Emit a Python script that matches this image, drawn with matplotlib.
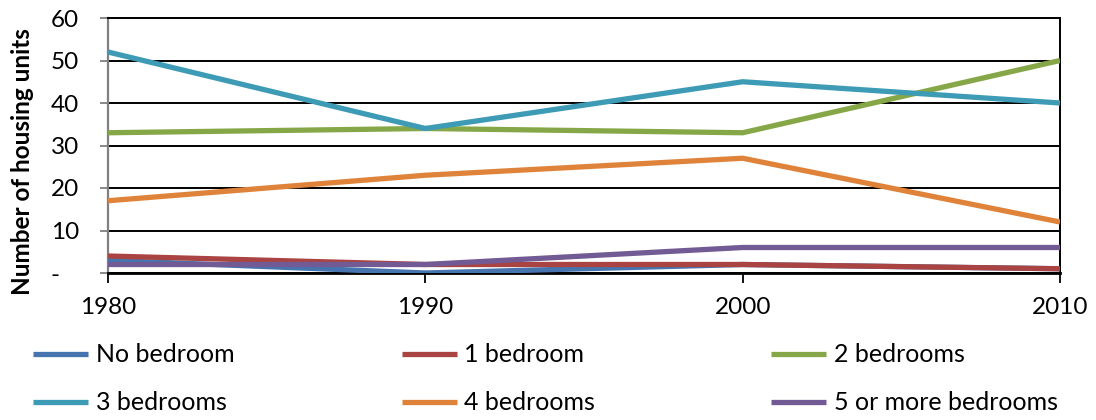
import matplotlib
matplotlib.use("Agg")
import matplotlib.pyplot as plt

plt.rcParams['font.family'] = ['Lato', 'DejaVu Sans']

years = [1980, 1990, 2000, 2010]
series_names = ["No bedroom", "1 bedroom", "2 bedrooms",
                "3 bedrooms", "4 bedrooms", "5 or more bedrooms"]
no_bedroom = [3, 0, 2, 1]
one_bedroom = [4, 2, 2, 1]
two_bedrooms = [33, 34, 33, 50]
three_bedrooms = [52, 34, 45, 40]
four_bedrooms = [17, 23, 27, 12]
five_plus = [2, 2, 6, 6]
series_values = [no_bedroom, one_bedroom, two_bedrooms,
                 three_bedrooms, four_bedrooms, five_plus]
colors = ["#4674AE", "#A94442", "#86A747", "#3E9BB5", "#E0833A", "#725A94"]
y_ticks = [0, 10, 20, 30, 40, 50, 60]
y_tick_labels = ["-   ", "10", "20", "30", "40", "50", "60"]

W, H = 1096, 420
fig = plt.figure(figsize=(W / 100, H / 100), dpi=100)
ax = fig.add_axes([108 / W, (H - 273) / H, (1060 - 108) / W, (273 - 18) / H])

handles = []
for name, vals, c in zip(series_names, series_values, colors):
    ln, = ax.plot(years, vals, color=c, lw=3.8, solid_capstyle='butt',
                  solid_joinstyle='miter', label=name, zorder=3)
    handles.append(ln)

ax.set_xlim(1980, 2010)
ax.set_ylim(0, 60)
ax.set_xticks(years)
ax.set_yticks(y_ticks)
ax.set_yticklabels(y_tick_labels)
ax.tick_params(axis='both', labelsize=17.5, labelcolor='#000000',
               width=1.3, direction='out')
ax.tick_params(axis='y', color='#808080', length=6, pad=15)
ax.tick_params(axis='x', color='#000000', length=7, pad=10)
ax.yaxis.grid(True, color='black', lw=1.4, zorder=0)
ax.set_axisbelow(True)
ax.spines['top'].set_color('black')
ax.spines['top'].set_linewidth(1.4)
ax.spines['right'].set_color('black')
ax.spines['right'].set_linewidth(1.4)
ax.spines['bottom'].set_color('black')
ax.spines['bottom'].set_linewidth(2.0)
ax.spines['left'].set_color('#808080')
ax.spines['left'].set_linewidth(1.6)
ax.set_ylabel("Number of housing units", fontsize=17.5, fontweight='bold')
ax.yaxis.set_label_coords((34 - 108) / (1060 - 108), (273 - 162) / (273 - 18))

# legend: three evenly spaced columns, two rows
col_x = [33, 402, 771]
row_y = [355, 403]
for i, h in enumerate(handles):
    r, c = divmod(i, 3)
    fig.legend(handles=[h], labels=[h.get_label()], loc='center left',
               bbox_to_anchor=(col_x[c] / W, 1 - row_y[r] / H), frameon=False,
               fontsize=18, handlelength=2.2, handletextpad=0.3,
               borderaxespad=0.0, borderpad=0.0)

fig.savefig("out.png", dpi=100)
